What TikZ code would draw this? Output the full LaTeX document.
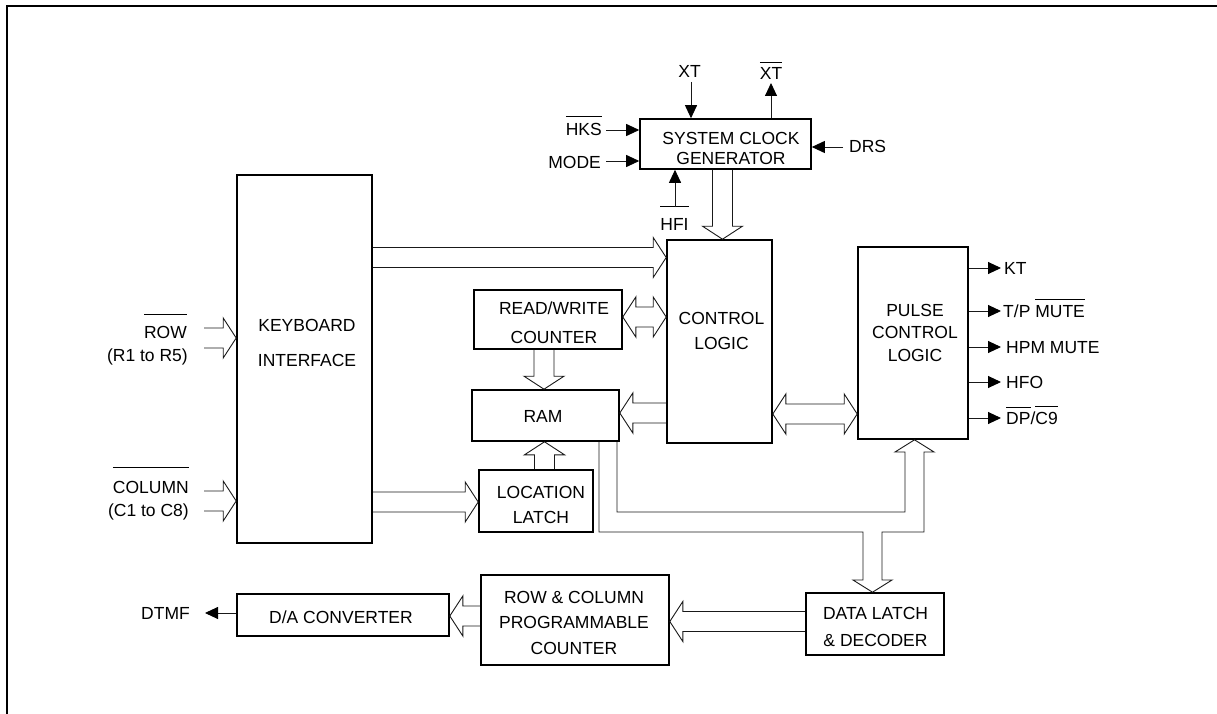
\documentclass[tikz,border=0pt]{standalone}
\usepackage{fontspec}
\setmainfont{Liberation Sans}
\usetikzlibrary{arrows.meta,calc}
\newcommand\ovl[2][5.5pt]{\vbox{\hrule height 0.9pt\kern#1\hbox{#2}}}
\newcommand\fsz[1]{\fontsize{17.5}{#1}\selectfont}
% horizontal bus, tip to the right
\newcommand\busR[3]{%
 \pgfmathsetmacro\bA{-(#1-10)}\pgfmathsetmacro\bB{-(#1+10)}%
 \pgfmathsetmacro\bC{-(#1-20)}\pgfmathsetmacro\bD{-(#1+20)}\pgfmathsetmacro\bM{-(#1)}%
 \draw[bus] let \p1=(#2.east),\p2=(#3.west) in
  (\x1,\bA pt) -- (\x2-13pt,\bA pt) -- (\x2-13pt,\bC pt) -- (\x2,\bM pt)
  -- (\x2-13pt,\bD pt) -- (\x2-13pt,\bB pt) -- (\x1,\bB pt);}
% horizontal bus, tip to the left
\newcommand\busL[3]{%
 \pgfmathsetmacro\bA{-(#1-10)}\pgfmathsetmacro\bB{-(#1+10)}%
 \pgfmathsetmacro\bC{-(#1-20)}\pgfmathsetmacro\bD{-(#1+20)}\pgfmathsetmacro\bM{-(#1)}%
 \draw[bus] let \p1=(#2.west),\p2=(#3.east) in
  (\x1,\bA pt) -- (\x2+13pt,\bA pt) -- (\x2+13pt,\bC pt) -- (\x2,\bM pt)
  -- (\x2+13pt,\bD pt) -- (\x2+13pt,\bB pt) -- (\x1,\bB pt);}
% horizontal bus, tips at both ends
\newcommand\busLR[3]{%
 \pgfmathsetmacro\bA{-(#1-10)}\pgfmathsetmacro\bB{-(#1+10)}%
 \pgfmathsetmacro\bC{-(#1-20)}\pgfmathsetmacro\bD{-(#1+20)}\pgfmathsetmacro\bM{-(#1)}%
 \draw[bus] let \p1=(#2.east),\p2=(#3.west) in
  (\x1+13pt,\bA pt) -- (\x2-13pt,\bA pt) -- (\x2-13pt,\bC pt) -- (\x2,\bM pt)
  -- (\x2-13pt,\bD pt) -- (\x2-13pt,\bB pt) -- (\x1+13pt,\bB pt)
  -- (\x1+13pt,\bD pt) -- (\x1,\bM pt) -- (\x1+13pt,\bC pt) -- cycle;}
% vertical bus, tip downwards
\newcommand\busD[3]{%
 \pgfmathsetmacro\bA{#1-10}\pgfmathsetmacro\bB{#1+10}%
 \pgfmathsetmacro\bC{#1-20}\pgfmathsetmacro\bD{#1+20}%
 \draw[bus] let \p1=(#2.south),\p2=(#3.north) in
  (\bA pt,\y1) -- (\bA pt,\y2+13pt) -- (\bC pt,\y2+13pt) -- (#1pt,\y2)
  -- (\bD pt,\y2+13pt) -- (\bB pt,\y2+13pt) -- (\bB pt,\y1);}
% vertical bus, tip upwards
\newcommand\busU[3]{%
 \pgfmathsetmacro\bA{#1-10}\pgfmathsetmacro\bB{#1+10}%
 \pgfmathsetmacro\bC{#1-20}\pgfmathsetmacro\bD{#1+20}%
 \draw[bus] let \p1=(#2.north),\p2=(#3.south) in
  (\bA pt,\y1) -- (\bA pt,\y2-13pt) -- (\bC pt,\y2-13pt) -- (#1pt,\y2)
  -- (\bD pt,\y2-13pt) -- (\bB pt,\y2-13pt) -- (\bB pt,\y1);}
\begin{document}
\begin{tikzpicture}[x=1pt,y=-1pt,
  box/.style={draw=black,line width=1.6pt,inner sep=0pt},
  txt/.style={align=center,inner sep=0pt},
  lbl/.style={inner sep=0pt,font=\fsz{20}},
  bus/.style={draw=black!90,line width=0.9pt,line join=miter},
  sig/.style={draw=black!90,line width=0.9pt,-{Triangle[length=13pt,width=12pt,color=black]}}]
\useasboundingbox (0,0) rectangle (1217,714);
% frame
\draw[line width=2pt] (7,714) -- (7,6) -- (1217,6);

% boxes
\node[box,minimum width=171pt,minimum height=50pt] (scg) at (725.5,144) {};
\node[box,minimum width=135pt,minimum height=368pt] (kbd) at (304.5,359) {};
\node[box,minimum width=105pt,minimum height=203pt] (ctrl) at (719.5,341.5) {};
\node[box,minimum width=148pt,minimum height=59pt] (rw) at (548,319.5) {};
\node[box,minimum width=147pt,minimum height=51pt] (ram) at (545.5,415.5) {};
\node[box,minimum width=114pt,minimum height=62pt] (ll) at (536,501) {};
\node[box,minimum width=110pt,minimum height=192pt] (pulse) at (913,343) {};
\node[box,minimum width=138pt,minimum height=62pt] (dl) at (875,624) {};
\node[box,minimum width=188pt,minimum height=90pt] (rc) at (575,620) {};
\node[box,minimum width=212pt,minimum height=42pt] (da) at (343,615) {};

% box texts
\node[txt,font=\fsz{20}] (scgt) at (731,148) {SYSTEM CLOCK\\GENERATOR};
\node[txt,font=\fsz{35}] (kbdt) at (307,342.5) {KEYBOARD\\INTERFACE};
\node[txt,font=\fsz{25}] (ctrlt) at (721.5,330.5) {CONTROL\\LOGIC};
\node[txt,font=\fsz{29}] (rwt) at (554,322.5) {READ/WRITE\\COUNTER};
\node[txt,font=\fsz{20}] (ramt) at (543,416) {RAM};
\node[txt,font=\fsz{25}] (llt) at (541,504.5) {LOCATION\\LATCH};
\node[txt,font=\fsz{22.5}] (pulset) at (915,332.5) {PULSE\\CONTROL\\LOGIC};
\node[txt,font=\fsz{27}] (dlt) at (875.5,626.5) {DATA LATCH\\\& DECODER};
\node[txt,font=\fsz{25.5}] (rct) at (574,622.5) {ROW \& COLUMN\\PROGRAMMABLE\\COUNTER};
\node[txt,font=\fsz{20}] (dat) at (341,617) {D/A CONVERTER};

% signal labels
\node[lbl,anchor=base] (xtl) at (689.5,78) {XT};
\node[lbl,anchor=base] (xtbl) at (771,80) {\ovl{XT}};
\node[lbl,anchor=base east] (hksl) at (602,136) {\ovl[7pt]{HKS}};
\node[lbl,anchor=base east] (model) at (601,168) {MODE};
\node[lbl,anchor=base west] (drsl) at (849,153) {DRS};
\node[lbl,anchor=base] (hfil) at (674.5,230) {\ovl[11pt]{HFI}};
\node[lbl,anchor=base east] (rowl) at (187,338) {\ovl[11pt]{ROW}};
\node[lbl,anchor=base east] (rowsl) at (188,361) {(R1 to R5)};
\node[lbl,anchor=base east] (coll) at (189,493) {\ovl[13pt]{COLUMN}};
\node[lbl,anchor=base east] (colsl) at (189,516) {(C1 to C8)};
\node[lbl,anchor=base east] (dtmfl) at (190,619) {DTMF};
\node[lbl,anchor=base west] (ktl) at (1004,274) {KT};
\node[lbl,anchor=base west] (tpl) at (1003,317) {T/P \ovl{MUTE}};
\node[lbl,anchor=base west] (hpml) at (1006,353) {HPM MUTE};
\node[lbl,anchor=base west] (hfol) at (1006,388) {HFO};
\node[lbl,anchor=base west] (dpl) at (1006,424) {\ovl[4.5pt]{DP}/\ovl[4.5pt]{C9}};

% free ends
\coordinate (xtin) at (691,82);
\coordinate (xtbout) at (771,83);
\coordinate (hksin) at (606,130);
\coordinate (modein) at (606,161);
\coordinate (drsin) at (843,147);
\coordinate (hfiin) at (675,207);
\coordinate (ktout) at (1001,268);
\coordinate (tpout) at (1001,311);
\coordinate (hpmout) at (1001,347);
\coordinate (hfoout) at (1001,382);
\coordinate (dpout) at (1001,418);
\coordinate (dtmfout) at (205,613);
\coordinate (rowin) at (204,338);
\coordinate (colin) at (204,501);

% signal connectors
\draw[sig] (xtin) -- (xtin |- scg.north);
\draw[sig] (xtbout |- scg.north) -- (xtbout);
\draw[sig] (hksin) -- (hksin -| scg.west);
\draw[sig] (modein) -- (modein -| scg.west);
\draw[sig] (drsin) -- (drsin -| scg.east);
\draw[sig] (hfiin) -- (hfiin |- scg.south);
\draw[sig] (ktout -| pulse.east) -- (ktout);
\draw[sig] (tpout -| pulse.east) -- (tpout);
\draw[sig] (hpmout -| pulse.east) -- (hpmout);
\draw[sig] (hfoout -| pulse.east) -- (hfoout);
\draw[sig] (dpout -| pulse.east) -- (dpout);
\draw[sig] (dtmfout -| da.west) -- (dtmfout);

% bus connectors
\busD{722.5}{scg}{ctrl}
\busR{257.5}{kbd}{ctrl}
\busR{338}{rowin}{kbd}
\busR{501}{colin}{kbd}
\busR{502}{kbd}{ll}
\busLR{317}{rw}{ctrl}
\busD{544}{rw}{ram}
\busL{413}{ctrl}{ram}
\busU{544.5}{ll}{ram}
\busLR{414}{ctrl}{pulse}
\busL{621.5}{dl}{rc}
\busL{616}{rc}{da}
\draw[bus] (ram.south -| 599,0) -- (599,532) -- (863,532) -- (863,580) -- (853,580)
  -- (dl.north -| 872.5,0) -- (892,580) -- (882,580) -- (882,532) -- (924,532)
  -- (924,452) -- (934,452) -- (pulse.south -| 914.5,0) -- (895,452) -- (905,452)
  -- (905,512) -- (617,512) -- (ram.south -| 617,0);
\end{tikzpicture}
\end{document}
